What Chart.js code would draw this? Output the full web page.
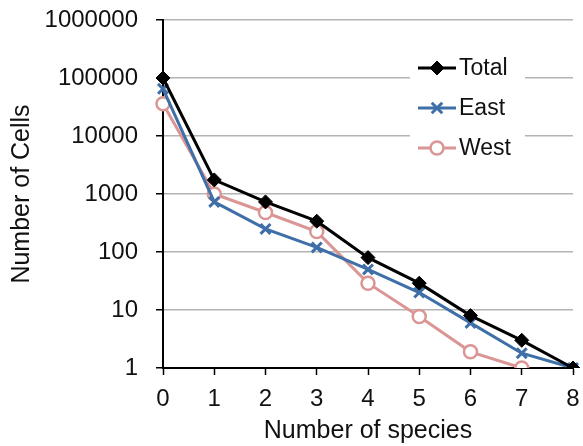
<!DOCTYPE html>
<html>
<head>
<meta charset="utf-8">
<script src="https://cdn.jsdelivr.net/npm/chart.js@4/dist/chart.umd.min.js"></script>
<style>
  html, body { margin: 0; padding: 0; background: #fff; }
  #wrap { width: 583px; height: 446px; }
</style>
</head>
<body>
<div id="wrap"><canvas id="cellsChart" width="583" height="446"></canvas></div>
<script>
const species = ['0', '1', '2', '3', '4', '5', '6', '7', '8'];
const totalCells = [100000, 1750, 730, 340, 80, 29, 8, 3, 1];
const eastCells = [65000, 730, 250, 120, 50, 20, 6, 1.8, 1];
const westCells = [36000, 1000, 480, 225, 29, 7.7, 1.9, 1, null];
const yTicks = [1, 10, 100, 1000, 10000, 100000, 1000000];

const FONT = '"Liberation Sans", Arial, sans-serif';

// legend drawn as line + marker boxes inside the plot, like the original
const insideLegend = {
    id: 'insideLegend',
    afterDatasetsDraw(chart) {
        const ctx = chart.ctx;
        ctx.save();
        ctx.fillStyle = '#fff';
        ctx.fillRect(410, 50, 115, 112);
        chart.data.datasets.forEach((ds, i) => {
            const y = 68 + i * 40;
            ctx.strokeStyle = ds.borderColor;
            ctx.lineWidth = ds.borderWidth;
            ctx.beginPath();
            ctx.moveTo(418, y);
            ctx.lineTo(456, y);
            ctx.stroke();
            ctx.fillStyle = ds.pointBackgroundColor;
            ctx.strokeStyle = ds.pointBorderColor;
            ctx.lineWidth = ds.pointBorderWidth;
            ctx.beginPath();
            drawMarker(ctx, ds.pointStyle, ds.pointRadius, 437, y);
            ctx.fillStyle = '#111';
            ctx.font = '23px ' + FONT;
            ctx.textBaseline = 'middle';
            ctx.textAlign = 'left';
            ctx.fillText(ds.label, 459, y + 1);
        });
        ctx.restore();
    }
};

function drawMarker(ctx, style, r, x, y) {
    if (style === 'rectRot') {
        ctx.moveTo(x, y - r); ctx.lineTo(x + r, y); ctx.lineTo(x, y + r); ctx.lineTo(x - r, y);
        ctx.closePath(); ctx.fill(); ctx.stroke();
    } else if (style === 'crossRot') {
        const d = r * 0.75;
        ctx.moveTo(x - d, y - d); ctx.lineTo(x + d, y + d);
        ctx.moveTo(x + d, y - d); ctx.lineTo(x - d, y + d);
        ctx.stroke();
    } else {
        ctx.arc(x, y, r, 0, Math.PI * 2);
        ctx.fill(); ctx.stroke();
    }
}

const ctx = document.getElementById('cellsChart').getContext('2d');

new Chart(ctx, {
    type: 'line',
    data: {
        labels: species,
        datasets: [{
            label: 'Total',
            data: totalCells,
            borderColor: '#000',
            borderWidth: 3,
            pointStyle: 'rectRot',
            pointRadius: 7,
            pointBackgroundColor: '#000',
            pointBorderColor: '#000',
            pointBorderWidth: 1,
            tension: 0
        }, {
            label: 'East',
            data: eastCells,
            borderColor: '#3F6FA8',
            borderWidth: 3,
            pointStyle: 'crossRot',
            pointRadius: 7,
            pointBackgroundColor: '#3F6FA8',
            pointBorderColor: '#3F6FA8',
            pointBorderWidth: 3,
            tension: 0
        }, {
            label: 'West',
            data: westCells,
            borderColor: '#DA9694',
            borderWidth: 3,
            pointStyle: 'circle',
            pointRadius: 6.5,
            pointBackgroundColor: '#fff',
            pointBorderColor: '#DA9694',
            pointBorderWidth: 2.5,
            tension: 0
        }]
    },
    options: {
        responsive: false,
        animation: false,
        layout: { padding: { left: 0, right: 8, top: 20, bottom: 0 } },
        plugins: {
            legend: { display: false },
            tooltip: { enabled: false }
        },
        scales: {
            x: {
                type: 'category',
                offset: false,
                afterFit(scale) {
                    scale.height = 78;
                    scale.paddingLeft = 0;
                    scale.paddingRight = 0;
                },
                grid: { drawOnChartArea: false, drawTicks: true, tickLength: 7, tickColor: '#000', tickWidth: 1.5 },
                border: { color: '#000', width: 2 },
                ticks: { color: '#111', font: { family: FONT, size: 24 }, padding: 10, maxRotation: 0 },
                title: { display: true, text: 'Number of species', color: '#111', font: { family: FONT, size: 25 }, padding: { top: 0, bottom: 0 } }
            },
            y: {
                type: 'logarithmic',
                min: 1,
                max: 1000000,
                afterFit(scale) {
                    scale.width = 163;
                    scale.paddingTop = 0;
                    scale.paddingBottom = 0;
                },
                afterBuildTicks(scale) { scale.ticks = yTicks.map(v => ({ value: v })); },
                grid: { color: '#b4b4b4', lineWidth: 1.5, drawTicks: true, tickLength: 7, tickColor: '#000', tickWidth: 1.5 },
                border: { color: '#000', width: 2 },
                ticks: {
                    color: '#111',
                    font: { family: FONT, size: 24 },
                    padding: 18,
                    callback: v => String(v)
                },
                title: { display: true, text: 'Number of Cells', color: '#111', font: { family: FONT, size: 25 }, padding: { top: 7, bottom: 0 } }
            }
        }
    },
    plugins: [insideLegend]
});
</script>
</body>
</html>
